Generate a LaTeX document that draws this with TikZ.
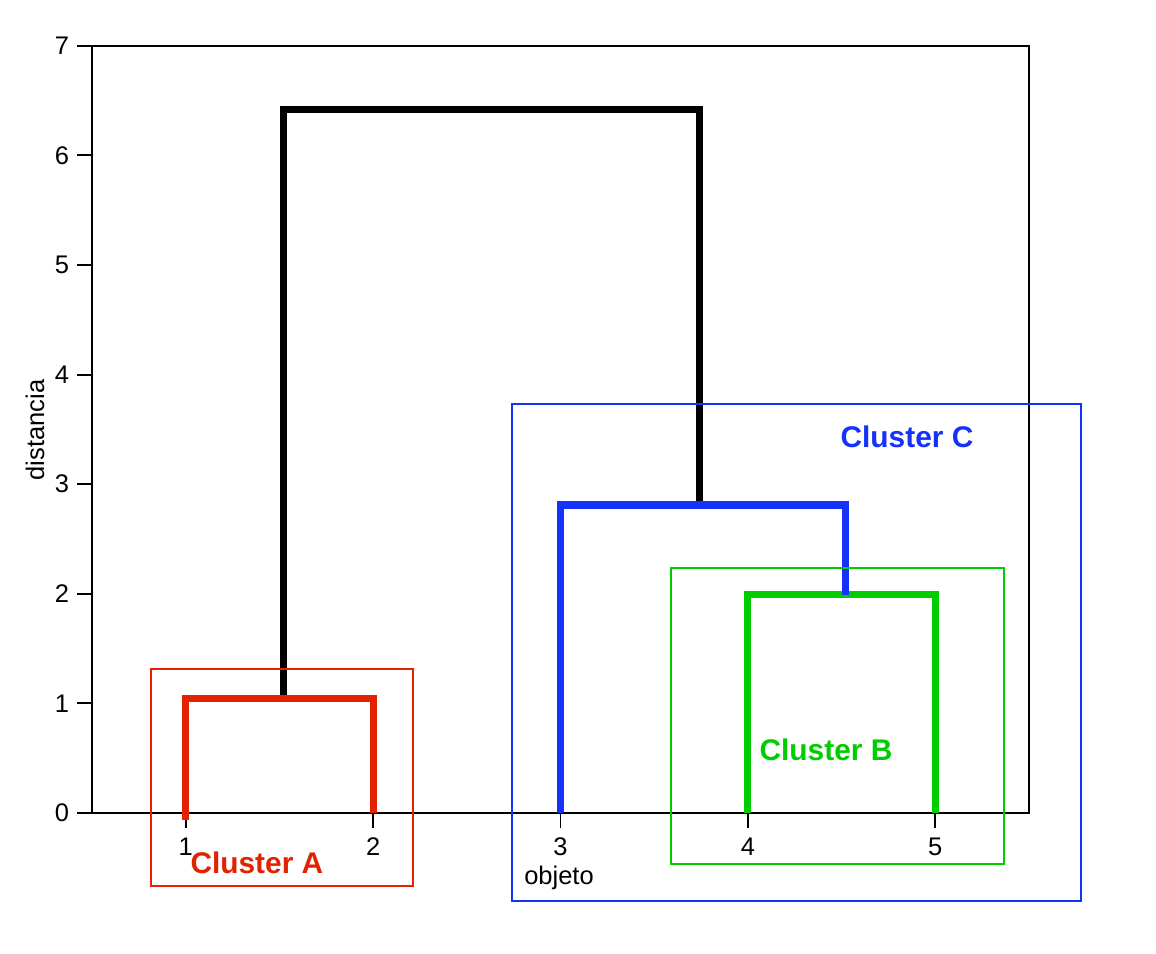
\documentclass[tikz,border=0pt]{standalone}
\usepackage{fontspec}
\setmainfont{Liberation Sans}
\definecolor{clred}{RGB}{226,34,0}
\definecolor{clblue}{RGB}{20,50,250}
\definecolor{clgreen}{RGB}{0,205,0}

\begin{document}
\begin{tikzpicture}[x=3.748cm, y=2.192cm, line join=miter,
  branch/.style={line width=4pt},
  clbox/.style={line width=1.1pt},
  axis/.style={line width=1.1pt},
  cllabel/.style={font=\fontsize{17}{20}\selectfont\bfseries},
  ticklabel/.style={font=\fontsize{14.5}{17}\selectfont}]
  \useasboundingbox (0.00907,-1.2865) rectangle (6.178,7.4179);

  \draw [axis] (0.5,0) rectangle (5.5,7);
  \foreach \y in {0,...,7} {
    \draw [axis] (0.42,\y)--(0.5,\y);
    \node [ticklabel, anchor=east] (tick\y) at (0.41,\y) {\y};
  }
  \foreach \x in {1,...,5} {
    \draw [axis] (\x,0)--(\x,-0.137);
    \node [ticklabel, anchor=north] (obj\x) at (\x,-0.17) {\x};
  }
  \node [ticklabel] (objeto) at (2.992,-0.59) {objeto};
  \node [ticklabel, rotate=90] (dist) at (0.196,3.495) {distancia};

  \coordinate (o1) at (1,-0.06);
  \coordinate (o2) at (2,0);
  \coordinate (o3) at (3,0);
  \coordinate (o4) at (4,0);
  \coordinate (o5) at (5,0);
  \coordinate (m12) at (1.5245,1.045);
  \coordinate (m45) at (4.52,1.99);
  \coordinate (m345) at (3.744,2.81);
  \coordinate (mall) at (3.744,6.42);

  \draw [branch] (m12) |- (mall) -| (m345);
  \draw [branch, clred] (o1) |- (m12) -| (o2);
  \draw [branch, clgreen] (o4) |- (m45) -| (o5);
  \draw [branch, clblue] (o3) |- (m345) -| (m45);

  \draw [clbox, clred] (0.815,-0.666) rectangle (2.213,1.314);
  \draw [clbox, clgreen] (3.590,-0.465) rectangle (5.367,2.235);
  \draw [clbox, clblue] (2.741,-0.803) rectangle (5.777,3.732);

  \node [cllabel, clred] (clA) at (1.380,-0.456) {Cluster A};
  \node [cllabel, clgreen] (clB) at (4.417,0.575) {Cluster B};
  \node [cllabel, clblue] (clC) at (4.849,3.431) {Cluster C};
\end{tikzpicture}
\end{document}
